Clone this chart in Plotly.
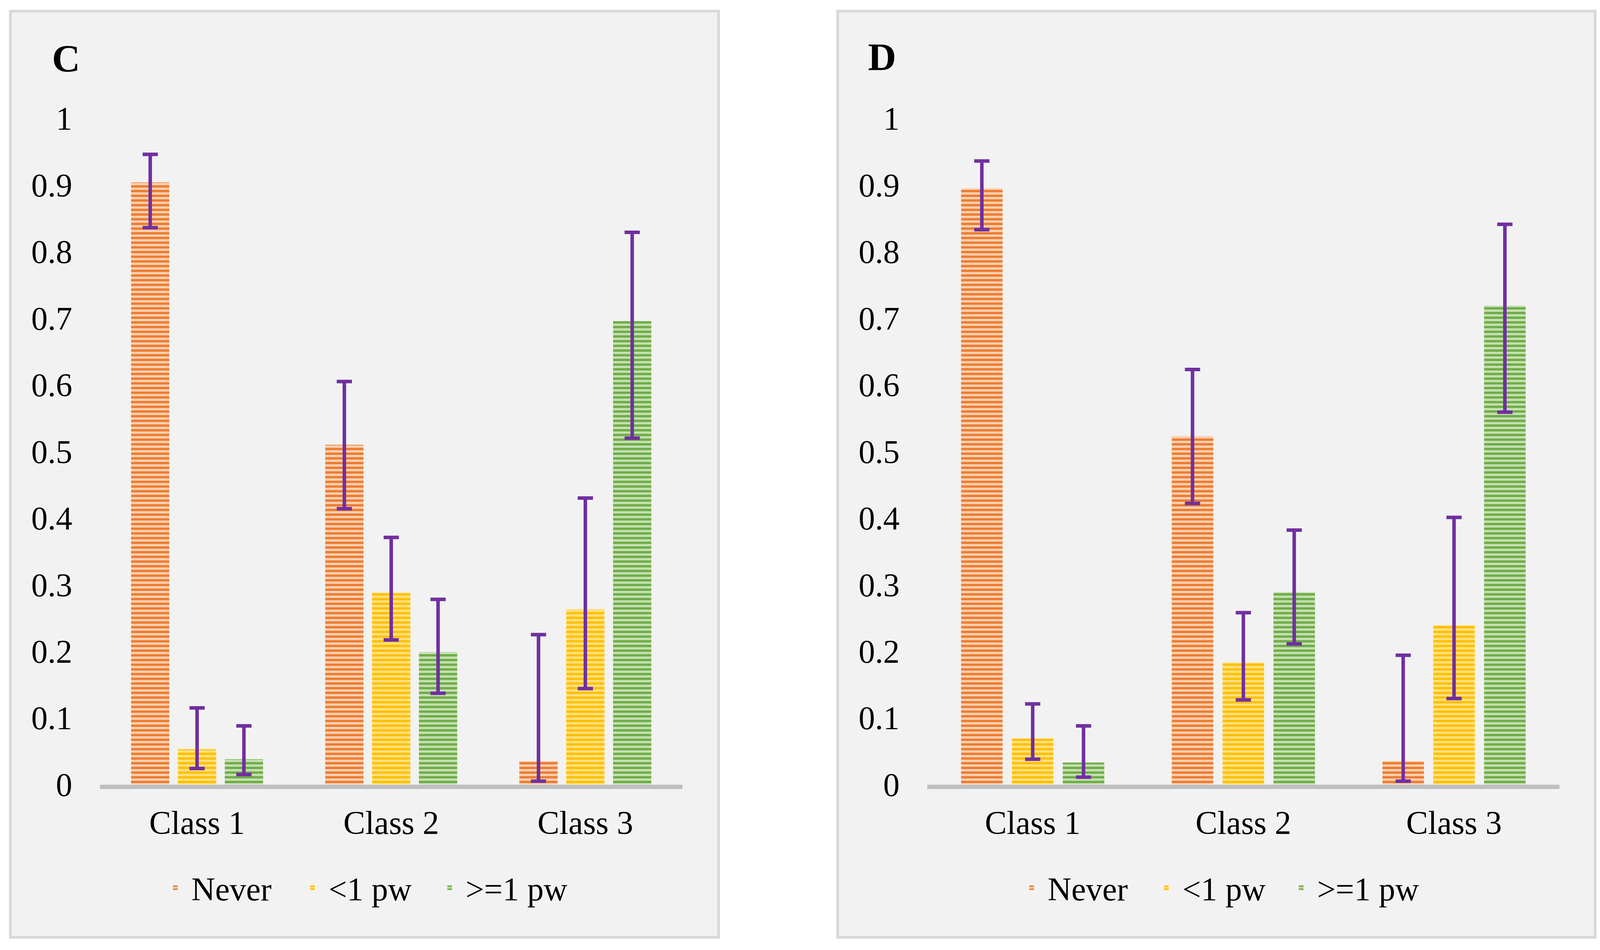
import plotly.graph_objects as go

# ---------------- data ----------------
categories = ["Class 1", "Class 2", "Class 3"]
series_names = ["Never", "<1 pw", ">=1 pw"]

# Panel C
c_never = [0.904, 0.510, 0.035]
c_never_lo = [0.836, 0.414, 0.005]
c_never_hi = [0.946, 0.605, 0.225]
c_lt1 = [0.053, 0.288, 0.263]
c_lt1_lo = [0.024, 0.217, 0.144]
c_lt1_hi = [0.115, 0.371, 0.430]
c_ge1 = [0.038, 0.199, 0.696]
c_ge1_lo = [0.015, 0.137, 0.520]
c_ge1_hi = [0.088, 0.278, 0.829]

# Panel D
d_never = [0.895, 0.523, 0.035]
d_never_lo = [0.833, 0.422, 0.005]
d_never_hi = [0.936, 0.623, 0.194]
d_lt1 = [0.069, 0.183, 0.239]
d_lt1_lo = [0.038, 0.127, 0.129]
d_lt1_hi = [0.121, 0.258, 0.401]
d_ge1 = [0.033, 0.289, 0.719]
d_ge1_lo = [0.011, 0.211, 0.559]
d_ge1_hi = [0.088, 0.382, 0.841]

y_tick_vals = [0, 0.1, 0.2, 0.3, 0.4, 0.5, 0.6, 0.7, 0.8, 0.9, 1]
y_tick_text = ["0", "0.1", "0.2", "0.3", "0.4", "0.5", "0.6", "0.7", "0.8", "0.9", "1"]
panel_labels = ["C", "D"]

# ---------------- style ----------------
W, H = 4105, 2431
FONT = "Liberation Serif, Times New Roman, serif"
fg_colors = ["#ED7D31", "#FFC000", "#70AD47"]
bg_colors = ["#f8cfb0", "#ffe07f", "#c4dfb2"]
ERR_COLOR = "#7030A0"

def px_x(p):
    return p / W

def px_y(p):
    return (H - p) / H

fig = go.Figure()

panels = [
    (c_never, c_never_lo, c_never_hi, c_lt1, c_lt1_lo, c_lt1_hi, c_ge1, c_ge1_lo, c_ge1_hi),
    (d_never, d_never_lo, d_never_hi, d_lt1, d_lt1_lo, d_lt1_hi, d_ge1, d_ge1_lo, d_ge1_hi),
]
axes = [("x", "y", "legend"), ("x2", "y2", "legend2")]

for pi, pdata in enumerate(panels):
    xa, ya, lg = axes[pi]
    for si in range(3):
        vals = pdata[si * 3]
        lo = pdata[si * 3 + 1]
        hi = pdata[si * 3 + 2]
        fig.add_trace(go.Bar(
            x=categories, y=vals, name=series_names[si],
            xaxis=xa, yaxis=ya, legend=lg,
            marker=dict(
                color=fg_colors[si],
                line=dict(width=0),
                pattern=dict(shape="-", fgcolor=fg_colors[si], bgcolor=bg_colors[si],
                             size=12, solidity=0.5, fillmode="replace"),
            ),
            error_y=dict(
                type="data", symmetric=False,
                array=[h - v for h, v in zip(hi, vals)],
                arrayminus=[v - l for v, l in zip(vals, lo)],
                color=ERR_COLOR, thickness=9, width=19.5,
            ),
        ))

# panel frames
shapes = []
for (x0, x1) in [(26.5, 1839.5), (2144.5, 4083.5)]:
    shapes.append(dict(type="rect", xref="paper", yref="paper",
                       x0=px_x(x0), x1=px_x(x1), y0=px_y(2398.5), y1=px_y(28.5),
                       fillcolor="#f2f2f2", line=dict(color="#d9d9d9", width=7),
                       layer="below"))

annotations = [
    dict(text="<b>%s</b>" % panel_labels[0], xref="paper", yref="paper",
         x=px_x(131), y=px_y(149), xanchor="left", yanchor="middle",
         showarrow=False, font=dict(family=FONT, size=100, color="black")),
    dict(text="<b>%s</b>" % panel_labels[1], xref="paper", yref="paper",
         x=px_x(2220), y=px_y(145), xanchor="left", yanchor="middle",
         showarrow=False, font=dict(family=FONT, size=100, color="black")),
]

y_dom = [px_y(2007.5), px_y(303)]

def xaxis_cfg(dom, anchor):
    return dict(domain=dom, anchor=anchor, showline=True, linecolor="#bfbfbf",
                linewidth=11, ticks="", showgrid=False, zeroline=False,
                tickfont=dict(family=FONT, size=84, color="black"),
                ticklabelstandoff=15, fixedrange=True, automargin=False)

def yaxis_cfg(anchor):
    return dict(domain=y_dom, anchor=anchor, range=[0, 1], showline=False,
                showgrid=False, zeroline=False, ticks="",
                tickvals=y_tick_vals, ticktext=y_tick_text,
                tickfont=dict(family=FONT, size=84, color="black"),
                ticklabelstandoff=70, fixedrange=True, automargin=False)

def legend_cfg(xpix, ew):
    return dict(orientation="h", x=px_x(xpix), xanchor="left",
                y=px_y(2272), yanchor="middle", bgcolor="rgba(0,0,0,0)",
                font=dict(family=FONT, size=84, color="black"),
                entrywidth=ew, entrywidthmode="pixels", traceorder="normal",
                valign="middle", itemwidth=72)

fig.update_layout(
    width=W, height=H, autosize=False,
    margin=dict(l=0, r=0, t=0, b=0, pad=0, autoexpand=False),
    paper_bgcolor="white", plot_bgcolor="rgba(0,0,0,0)",
    barmode="group", bargap=0.276, bargroupgap=0.183,
    xaxis=xaxis_cfg([px_x(256), px_x(1747)], "y"),
    yaxis=yaxis_cfg("x"),
    xaxis2=xaxis_cfg([px_x(2374), px_x(3992)], "y2"),
    yaxis2=yaxis_cfg("x2"),
    legend=legend_cfg(408, 264),
    legend2=legend_cfg(2600, 258),
    shapes=shapes, annotations=annotations,
    showlegend=True,
)

fig.write_html(
    "out.html",
    config={"displayModeBar": False},
    post_script="document.body.style.margin='0';document.body.style.overflow='hidden';",
)
